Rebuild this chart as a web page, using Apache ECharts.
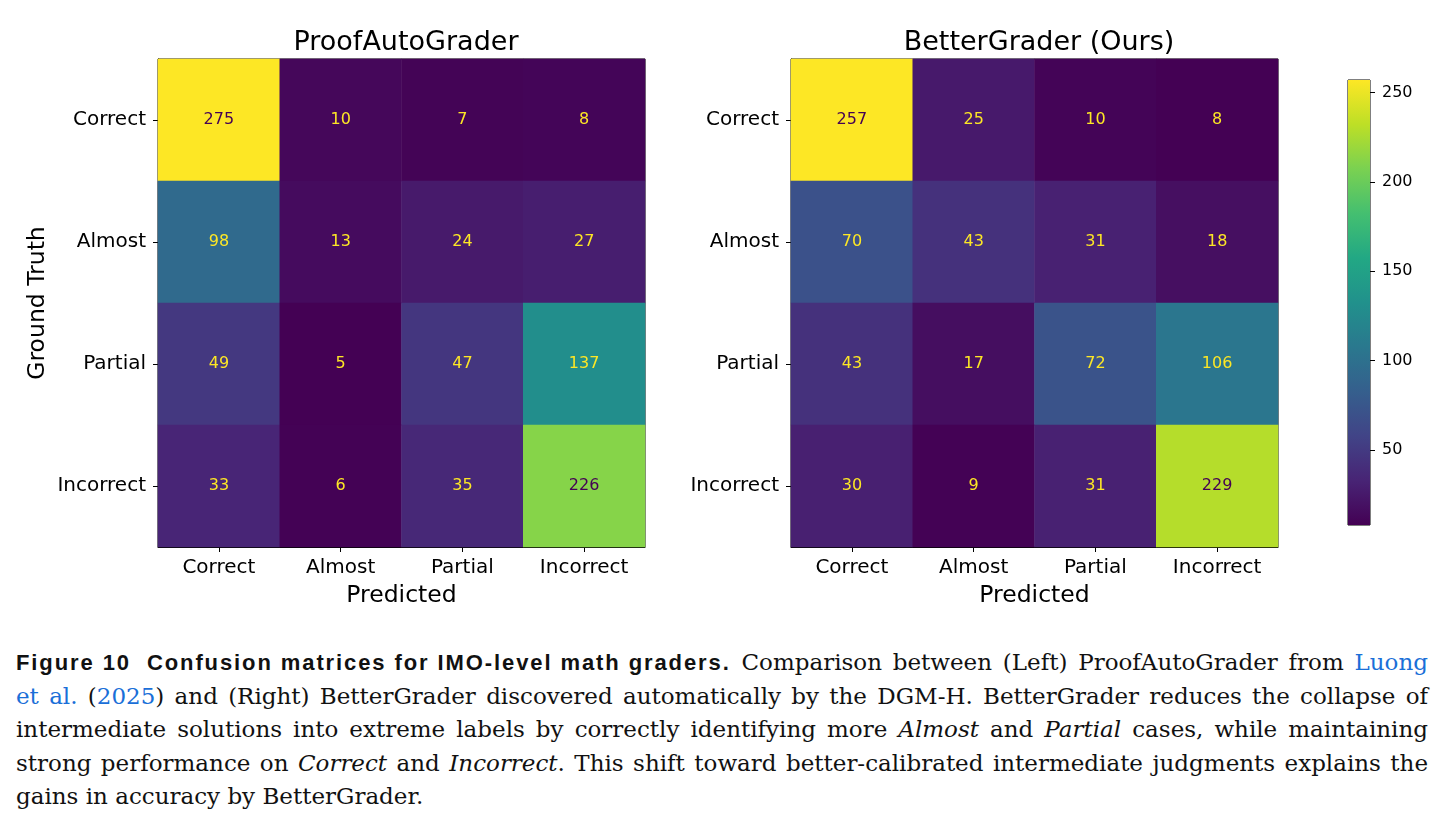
<!DOCTYPE html>
<html>
<head>
<meta charset="utf-8">
<script src="https://cdn.jsdelivr.net/npm/echarts@6/dist/echarts.min.js"></script>
<style>
  body { margin: 0; background: #fff; }
  #chart { position: absolute; left: 0; top: 0; width: 1444px; height: 630px; }
  #caption {
    position: absolute; left: 16px; top: 646px; width: 1412px;
    font-family: "DejaVu Serif", serif; font-size: 23px; line-height: 33.5px;
    color: #111;
  }
  #caption .ln { text-align: justify; text-align-last: justify; white-space: nowrap; }
  #caption .last { text-align: left; text-align-last: left; }
  #caption b { display: inline-block; font-family: "Liberation Sans", sans-serif; font-size: 22px; letter-spacing: 1.9px; }
  #caption .lk { color: #1a6fd8; }
</style>
</head>
<body>
<div id="chart"></div>
<div id="caption">
  <div class="ln"><b>Figure 10&nbsp;&nbsp;Confusion matrices for IMO-level math graders.</b> Comparison between (Left) ProofAutoGrader from <span class="lk">Luong</span></div>
  <div class="ln"><span class="lk">et al.</span> (<span class="lk">2025</span>) and (Right) BetterGrader discovered automatically by the DGM-H. BetterGrader reduces the collapse of</div>
  <div class="ln">intermediate solutions into extreme labels by correctly identifying more <i>Almost</i> and <i>Partial</i> cases, while maintaining</div>
  <div class="ln">strong performance on <i>Correct</i> and <i>Incorrect</i>. This shift toward better-calibrated intermediate judgments explains the</div>
  <div class="ln last">gains in accuracy by BetterGrader.</div>
</div>
<script>
const labels = ["Correct", "Almost", "Partial", "Incorrect"];
// rows = ground truth, cols = predicted
const proofAutoGrader = [
  [275, 10, 7, 8],
  [98, 13, 24, 27],
  [49, 5, 47, 137],
  [33, 6, 35, 226],
];
const betterGrader = [
  [257, 25, 10, 8],
  [70, 43, 31, 18],
  [43, 17, 72, 106],
  [30, 9, 31, 229],
];
const colorbarTicks = [50, 100, 150, 200, 250];

const viridis = ["#440154", "#482475", "#414487", "#355f8d", "#2a788e",
  "#21918c", "#22a884", "#44bf70", "#7ad151", "#bddf26", "#fde725"];

const font = "DejaVu Sans";

function cells(m) {
  const flat = m.flat();
  const lo = Math.min(...flat), hi = Math.max(...flat);
  const thresh = (lo + hi) / 2;
  const data = [];
  m.forEach((row, r) => row.forEach((v, c) => {
    data.push({ value: [c, r, v], label: { color: v < thresh ? viridis[10] : viridis[0] } });
  }));
  return { data, lo, hi };
}

const left = cells(proofAutoGrader);
const right = cells(betterGrader);

const chart = echarts.init(document.getElementById("chart"));

function xAx(gi) {
  return {
    type: "category", gridIndex: gi, data: labels, position: "bottom",
    name: "Predicted", nameLocation: "middle", nameGap: 37,
    nameTextStyle: { fontFamily: font, fontSize: 23.5, color: "#000" },
    axisLine: { show: true, lineStyle: { color: "#000", width: 1 } },
    axisTick: { show: true, alignWithLabel: true, length: 5, lineStyle: { color: "#000" } },
    axisLabel: { fontFamily: font, fontSize: 20, color: "#000", margin: 11 },
    splitLine: { show: false },
  };
}
function yAx(gi, withName) {
  return {
    type: "category", gridIndex: gi, data: labels, inverse: true,
    name: withName ? "Ground Truth" : "", nameLocation: "middle", nameGap: 108, nameRotate: 90,
    nameTextStyle: { fontFamily: font, fontSize: 23.5, color: "#000" },
    axisLine: { show: true, lineStyle: { color: "#000", width: 1 } },
    axisTick: { show: true, alignWithLabel: true, length: 5, lineStyle: { color: "#000" } },
    axisLabel: { fontFamily: font, fontSize: 20, color: "#000", margin: 12 },
    splitLine: { show: false },
  };
}

const gridBase = { show: true, borderColor: "#000", borderWidth: 1, containLabel: false };

const options = {
  animation: false,
  title: [
    { text: "ProofAutoGrader", left: 401, top: 24, textAlign: "center",
      textStyle: { fontFamily: font, fontSize: 27, fontWeight: "normal", color: "#000" } },
    { text: "BetterGrader (Ours)", left: 1034, top: 24, textAlign: "center",
      textStyle: { fontFamily: font, fontSize: 27, fontWeight: "normal", color: "#000" } },
  ],
  grid: [
    Object.assign({ left: 158, top: 59, width: 487, height: 488 }, gridBase),
    Object.assign({ left: 791, top: 59, width: 487, height: 488 }, gridBase),
    Object.assign({ left: 1348, top: 80, width: 22, height: 445 }, gridBase),
  ],
  xAxis: [
    xAx(0), xAx(1),
    { type: "category", gridIndex: 2, data: [""], show: false },
  ],
  yAxis: [
    yAx(0, true), yAx(1, false),
    {
      type: "value", gridIndex: 2, position: "right", min: right.lo, max: right.hi,
      axisLine: { show: false },
      axisTick: { show: true, length: 5, customValues: colorbarTicks, lineStyle: { color: "#000" } },
      axisLabel: { fontFamily: font, fontSize: 16, color: "#000", margin: 12, customValues: colorbarTicks },
      splitLine: { show: false },
    },
  ],
  visualMap: [
    { show: false, seriesIndex: 0, min: left.lo, max: left.hi, inRange: { color: viridis } },
    { show: false, seriesIndex: 1, min: right.lo, max: right.hi, inRange: { color: viridis } },
  ],
  series: [
    { type: "heatmap", xAxisIndex: 0, yAxisIndex: 0, data: left.data,
      label: { show: true, fontFamily: font, fontSize: 16 } },
    { type: "heatmap", xAxisIndex: 1, yAxisIndex: 1, data: right.data,
      label: { show: true, fontFamily: font, fontSize: 16 } },
    { type: "bar", xAxisIndex: 2, yAxisIndex: 2, stack: "cb", barWidth: "100%",
      data: [right.lo], itemStyle: { color: "transparent" }, silent: true },
    { type: "bar", xAxisIndex: 2, yAxisIndex: 2, stack: "cb", barWidth: "100%",
      data: [right.hi - right.lo], silent: true,
      itemStyle: {
        color: new echarts.graphic.LinearGradient(0, 1, 0, 0,
          viridis.map((c, i) => ({ offset: i / (viridis.length - 1), color: c }))),
      } },
  ],
};

chart.setOption(options);
</script>
</body>
</html>
